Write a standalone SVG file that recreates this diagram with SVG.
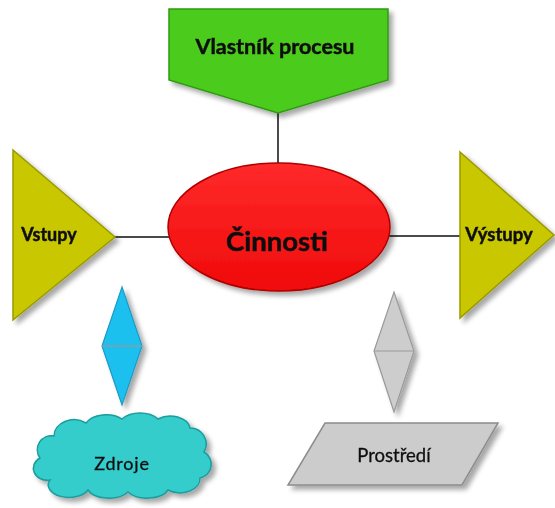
<svg xmlns="http://www.w3.org/2000/svg" width="555" height="508" viewBox="0 0 555 508">
<defs>
<filter id="sh" x="-20%" y="-20%" width="150%" height="150%">
<feGaussianBlur in="SourceAlpha" stdDeviation="2.5"/>
<feOffset dx="4" dy="4" result="b"/>
<feComponentTransfer><feFuncA type="linear" slope="0.35"/></feComponentTransfer>
<feMerge><feMergeNode/><feMergeNode in="SourceGraphic"/></feMerge>
</filter>
<linearGradient id="gRed" x1="0" y1="0" x2="0" y2="1">
<stop offset="0" stop-color="#ff2a2a"/><stop offset="1" stop-color="#f00a0a"/>
</linearGradient>
</defs>
<style>
.lbl{font-family:Lato,"Open Sans","Liberation Sans",sans-serif;fill:#111;text-anchor:middle}
.b{font-weight:bold;stroke:#111;stroke-width:0.5}
.conn{stroke:#4a4a4a;stroke-width:2;fill:none}
</style>
<rect width="555" height="508" fill="#ffffff"/>
<g id="connectors">
<line class="conn" x1="278" y1="113" x2="278" y2="164"/>
<line class="conn" x1="114" y1="237" x2="169" y2="237"/>
<line class="conn" x1="389" y1="236" x2="461" y2="236"/>
</g>
<g id="vlastnik" filter="url(#sh)">
<path d="M169 9 H388 V80 L278 113 L169 80 Z" fill="#4ccc1e" stroke="#2f9a12" stroke-width="1.5"/>
<text class="lbl b" x="275" y="54" font-size="21.5">Vlastník procesu</text>
</g>
<g id="cinnosti" filter="url(#sh)">
<ellipse cx="279" cy="227" rx="111" ry="64" fill="url(#gRed)" stroke="#b00000" stroke-width="1.5"/>
<text class="lbl b" x="277" y="251" font-size="27.5">Činnosti</text>
</g>
<g id="vstupy" filter="url(#sh)">
<path d="M13 150 L115 237 L13 320 Z" fill="#c9c800" stroke="#9a9a00" stroke-width="1.5"/>
<text class="lbl b" x="49" y="241" font-size="18">Vstupy</text>
</g>
<g id="vystupy" filter="url(#sh)">
<path d="M460 152 L554 235 L460 318 Z" fill="#c9c800" stroke="#9a9a00" stroke-width="1.5"/>
<text class="lbl b" x="499" y="241" font-size="18.5">Výstupy</text>
</g>
<g id="diamond-blue" filter="url(#sh)">
<path d="M122 287 L142 346 L122 405 L102 346 Z" fill="#1ec0ee" stroke="#1a9ac4" stroke-width="1.2"/>
<line x1="102" y1="346" x2="142" y2="346" stroke="#8a9ca4" stroke-width="1.5"/>
</g>
<g id="diamond-gray" filter="url(#sh)">
<path d="M394 292 L414 351 L394 412 L374 351 Z" fill="#cdcdcd" stroke="#999999" stroke-width="1.2"/>
<line x1="374" y1="351" x2="414" y2="351" stroke="#999999" stroke-width="1.2"/>
</g>
<g id="zdroje" filter="url(#sh)">
<path d="M50 480 a14 12 0 0 1 -10 -22 a14 14 0 0 1 14 -22 a20 16 0 0 1 32 -13 a22 14 0 0 1 36 -4 a22 14 0 0 1 36 0 a20 14 0 0 1 32 9 a16 16 0 0 1 14 24 a14 14 0 0 1 -4 26 a20 14 0 0 1 -32 12 a22 12 0 0 1 -40 2 a22 12 0 0 1 -40 -2 a20 12 0 0 1 -38 -10 Z" fill="#36cccc" stroke="#1a9c9c" stroke-width="1.5"/>
<text class="lbl" x="122" y="470" font-size="18" letter-spacing="0.8" stroke="#111" stroke-width="0.3">Zdroje</text>
</g>
<g id="prostredi" filter="url(#sh)">
<path d="M325 423 H498 L462 485 H288 Z" fill="#cccccc" stroke="#8c8c8c" stroke-width="1.5"/>
<text class="lbl" x="394" y="462" font-size="18.5" stroke="#111" stroke-width="0.3">Prostředí</text>
</g>
</svg>
